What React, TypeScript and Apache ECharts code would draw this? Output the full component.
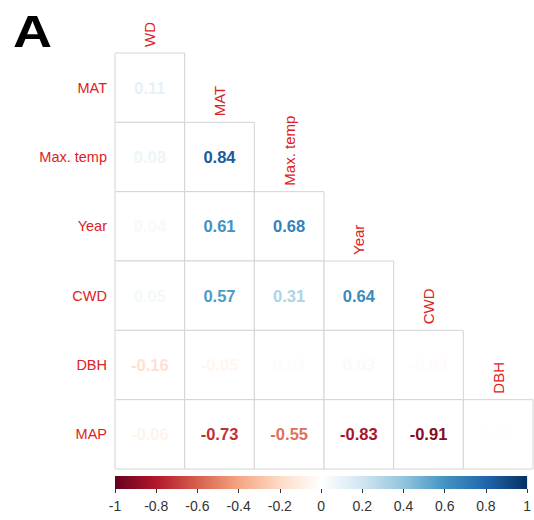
import React, { useEffect, useRef } from "react";
import * as echarts from "echarts";

const colNames = ["WD", "MAT", "Max. temp", "Year", "CWD", "DBH"];
const rowNames = ["MAT", "Max. temp", "Year", "CWD", "DBH", "MAP"];
// lower-triangle correlations, row by row (row r has r+1 values)
const corrRows: number[][] = [
  [0.11],
  [0.08, 0.84],
  [0.04, 0.61, 0.68],
  [0.05, 0.57, 0.31, 0.64],
  [-0.16, -0.05, 0.02, 0.03, -0.03],
  [-0.06, -0.73, -0.55, -0.83, -0.91, 0.01],
];
const barTicks = [-1, 1, 0.2];
const paletteRdBu = [
  "#67001F", "#B2182B", "#D6604D", "#F4A582", "#FDDBC7", "#FFFFFF",
  "#D1E5F0", "#92C5DE", "#4393C3", "#2166AC", "#053061",
];

const RED = "#dd2222";
const FONT = '"Liberation Sans", Arial, sans-serif';

function hexToRgb(h: string) {
  const n = parseInt(h.slice(1), 16);
  return [(n >> 16) & 255, (n >> 8) & 255, n & 255];
}
function colorFor(v: number) {
  const t = ((v + 1) / 2) * (paletteRdBu.length - 1);
  const i = Math.min(paletteRdBu.length - 2, Math.max(0, Math.floor(t)));
  const f = t - i;
  const a = hexToRgb(paletteRdBu[i]);
  const b = hexToRgb(paletteRdBu[i + 1]);
  const c = a.map((x, k) => Math.round(x + (b[k] - x) * f));
  return `rgb(${c[0]},${c[1]},${c[2]})`;
}

export default function App() {
  const ref = useRef<HTMLDivElement>(null);
  useEffect(() => {
    if (!ref.current) return;
    const chart = echarts.init(ref.current, null, { renderer: "svg" });
    const cellData: number[][] = [];
    corrRows.forEach((row, r) => row.forEach((v, c) => cellData.push([c, r, v])));
    const labelData = colNames.map((_, i) => [i, i]);
    const stops = paletteRdBu.map((col, i) => ({ offset: i / (paletteRdBu.length - 1), color: col }));

    chart.setOption({
      animation: false,
      backgroundColor: "#fff",
      graphic: [
        {
          type: "text",
          x: 13,
          y: 9,
          scaleX: 1.2,
          style: { text: "A", font: `bold 45px ${FONT}`, fill: "#000" },
        },
      ],
      grid: [
        { left: 115, top: 53, width: 418, height: 416 },
        { left: 115, top: 476, width: 418, height: 13 },
      ],
      xAxis: [
        { type: "category", gridIndex: 0, data: colNames, show: false },
        {
          type: "value",
          gridIndex: 1,
          min: barTicks[0],
          max: barTicks[1],
          interval: barTicks[2],
          position: "bottom",
          axisLine: { show: false },
          axisTick: { show: true, length: 4, lineStyle: { color: "#333" } },
          axisLabel: { fontSize: 14, color: "#333", margin: 10, fontFamily: FONT },
          splitLine: { show: false },
        },
      ],
      yAxis: [
        {
          type: "category",
          gridIndex: 0,
          data: rowNames,
          inverse: true,
          axisLine: { show: false },
          axisTick: { show: false },
          splitLine: { show: false },
          axisLabel: { color: RED, fontSize: 14.5, margin: 8, fontFamily: FONT },
        },
        { type: "value", gridIndex: 1, min: 0, max: 1, show: false },
      ],
      series: [
        {
          type: "custom",
          xAxisIndex: 0,
          yAxisIndex: 0,
          clip: false,
          data: cellData,
          renderItem: (_p: any, api: any) => {
            const c = api.coord([api.value(0), api.value(1)]);
            const s = api.size([1, 1]);
            const v = api.value(2);
            return {
              type: "group",
              children: [
                {
                  type: "rect",
                  shape: { x: c[0] - s[0] / 2, y: c[1] - s[1] / 2, width: s[0], height: s[1] },
                  style: { fill: "#fff", stroke: "#d4d4d4", lineWidth: 1 },
                },
                {
                  type: "text",
                  x: c[0],
                  y: c[1],
                  style: {
                    text: v.toFixed(2),
                    fill: colorFor(v),
                    font: `bold 16.5px ${FONT}`,
                    align: "center",
                    verticalAlign: "middle",
                  },
                },
              ],
            };
          },
        },
        {
          type: "custom",
          xAxisIndex: 0,
          yAxisIndex: 0,
          clip: false,
          data: labelData,
          renderItem: (p: any, api: any) => {
            const c = api.coord([api.value(0), api.value(1)]);
            const s = api.size([1, 1]);
            return {
              type: "text",
              x: c[0],
              y: c[1] - s[1] / 2 - 6,
              rotation: Math.PI / 2,
              style: {
                text: colNames[p.dataIndex],
                fill: RED,
                font: `15px ${FONT}`,
                align: "left",
                verticalAlign: "middle",
              },
            };
          },
        },
        {
          type: "custom",
          xAxisIndex: 1,
          yAxisIndex: 1,
          clip: false,
          data: [[barTicks[0], 0, barTicks[1], 1]],
          renderItem: (_p: any, api: any) => {
            const a = api.coord([api.value(0), api.value(1)]);
            const b = api.coord([api.value(2), api.value(3)]);
            return {
              type: "rect",
              shape: { x: a[0], y: b[1], width: b[0] - a[0], height: a[1] - b[1] },
              style: { fill: new echarts.graphic.LinearGradient(0, 0, 1, 0, stops) },
            };
          },
        },
      ],
    });
    return () => chart.dispose();
  }, []);
  return (
    <div
      ref={ref}
      style={{ position: "fixed", left: 0, top: 0, width: 534, height: 520 }}
    />
  );
}
